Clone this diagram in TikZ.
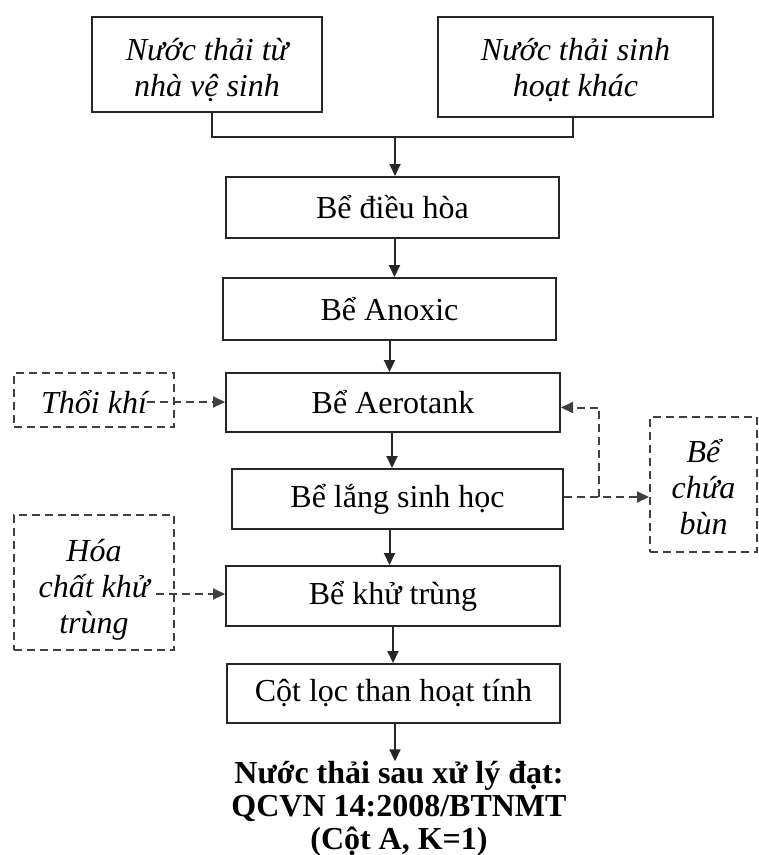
\documentclass[tikz,border=0pt]{standalone}
\usepackage{fontspec}
\setmainfont{Liberation Serif}
\usetikzlibrary{arrows.meta}
\begin{document}
\begin{tikzpicture}[x=1pt,y=-1pt,
  box/.style={draw=black!85, line width=2pt, minimum height=60pt, inner sep=0pt,
    font=\fontsize{32}{37}\selectfont},
  frame/.style={draw=black!85, line width=2pt, inner sep=0pt},
  dbox/.style={draw=black!75, line width=2pt, dash pattern=on 8pt off 5pt, inner sep=0pt},
  itext/.style={inner sep=0pt, align=center, font=\itshape\fontsize{32}{36}\selectfont},
  arr/.style={draw=black!85, line width=2pt, -{Triangle[length=12pt,width=11pt]}},
  darr/.style={arr, draw=black!75, dash pattern=on 8pt off 5pt},
]
\useasboundingbox (0,0) rectangle (759,855);

% sources
\node[frame, minimum width=230pt, minimum height=95pt] (src1) at (207,64.5) {};
\node[itext] (src1txt) at (207,70) {Nước thải từ\\nhà vệ sinh};
\node[frame, minimum width=275pt, minimum height=100pt] (src2) at (575.5,67) {};
\node[itext] (src2txt) at (575.5,70) {Nước thải sinh\\hoạt khác};

% treatment chain
\node[box, minimum width=333pt, minimum height=61pt] (dieu)   at (392.5,207.5) {Bể điều hòa};
\node[box, minimum width=333pt, minimum height=62pt] (anoxic) at (389.5,309)   {Bể Anoxic};
\node[box, minimum width=334pt, minimum height=59pt] (aero)   at (393,402.5)   {Bể Aerotank};
\node[box, minimum width=331pt, minimum height=60pt] (lang)   at (397.5,499)   {Bể lắng sinh học};
\node[box, minimum width=334pt, minimum height=60pt] (khu)    at (393,596)     {Bể khử trùng};
\node[box, minimum width=333pt, minimum height=59pt] (cot)    at (393.5,693.5) {Cột lọc than hoạt tính};

\node[inner sep=0pt, align=center, font=\bfseries\fontsize{32}{33}\selectfont] (out) at (399,809)
  {Nước thải sau xử lý đạt:\\QCVN 14:2008/BTNMT\\(Cột A, K=1)};

% side inputs / outputs
\node[dbox, minimum width=160pt, minimum height=54pt] (thoi) at (94,400) {};
\node[itext] (thoitxt) at (94,402) {Thổi khí};
\node[dbox, minimum width=160pt, minimum height=135pt] (hoa) at (94,582.5) {};
\node[itext] (hoatxt) at (94,590) {Hóa\\chất khử\\trùng};
\node[dbox, minimum width=107pt, minimum height=135pt] (bun) at (703.5,484.5) {};
\node[itext] (buntxt) at (703.5,487) {Bể\\chứa\\bùn};

% main flow
\coordinate (join) at (395,137);
\draw[draw=black!85, line width=2pt] ([xshift=5pt]src1.south) |- (join) -| ([xshift=-3pt]src2.south);
\draw[arr] (join) -- (join |- dieu.north);
\draw[arr] ([xshift=2pt]dieu.south) -- ([xshift=2pt]dieu.south |- anoxic.north);
\draw[arr] (anoxic.south) -- (anoxic.south |- aero.north);
\draw[arr] ([xshift=-1pt]aero.south) -- ([xshift=-1pt]aero.south |- lang.north);
\draw[arr] ([xshift=-8pt]lang.south) -- ([xshift=-8pt]lang.south |- khu.north);
\draw[arr] (khu.south) -- (khu.south |- cot.north);
\draw[arr] ([xshift=1.5pt]cot.south) -- ([xshift=1.5pt]cot.south |- out.north);

% dashed connectors
\draw[darr] (thoitxt.east) -- (thoitxt.east -| aero.west);
\coordinate (hoaend) at (156,594);
\draw[darr] (hoaend) -- (hoaend -| khu.west);
\coordinate (split) at (599,497);
\draw[darr] (split -| lang.east) -- (split -| bun.west);
\draw[darr] (split) |- ([yshift=-5pt]aero.east);
\end{tikzpicture}
\end{document}
